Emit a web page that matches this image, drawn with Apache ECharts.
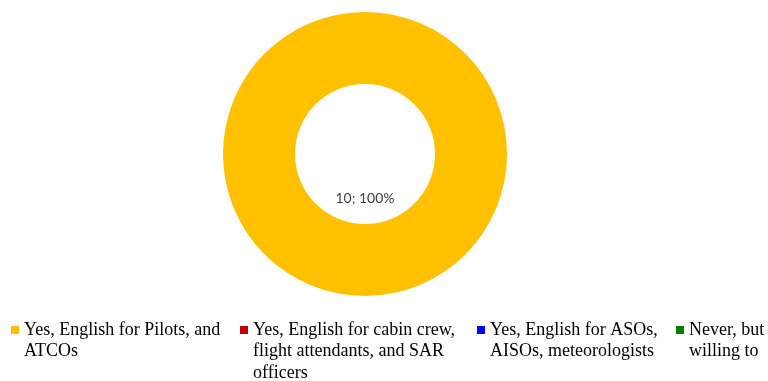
<!DOCTYPE html>
<html>
<head>
<meta charset="utf-8">
<script src="https://cdn.jsdelivr.net/npm/echarts@6/dist/echarts.min.js"></script>
<style>
  html, body { margin: 0; padding: 0; background: #fff; }
  #chart { width: 768px; height: 381px; }
</style>
</head>
<body>
<div id="chart"></div>
<script>
// Survey answers and their counts
const legendLines = [
  ['Yes, English for Pilots, and', 'ATCOs'],
  ['Yes, English for cabin crew,', 'flight attendants, and SAR', 'officers'],
  ['Yes, English for ASOs,', 'AISOs, meteorologists'],
  ['Never, but', 'willing to']
];
const categories = legendLines.map(l => l.join(' '));
const counts = [10, 0, 0, 0];
const colors = ['#FFC000', '#C00000', '#0000FF', '#008000'];

// legend item anchors (left edge of each square)
const legendLeft = [11, 240, 477, 676];
const iconTop = 326;
const iconSize = 8;
const lineH = 21.5;

const chart = echarts.init(document.getElementById('chart'), null, { renderer: 'canvas' });

// The legend text block is centred on its square, so blank lines are put
// above the wrapped name to keep the first line level with the square.
const legends = categories.map((name, i) => {
  const n = legendLines[i].length;
  const blockLines = 2 * n - 1;
  return {
    data: [name],
    left: legendLeft[i],
    top: iconTop + iconSize / 2 - blockLines * lineH / 2,
    orient: 'horizontal',
    padding: 0,
    itemGap: 0,
    icon: 'rect',
    itemWidth: iconSize,
    itemHeight: iconSize,
    selectedMode: false,
    formatter: () => '\n'.repeat(n - 1) + legendLines[i].join('\n'),
    textStyle: {
      fontFamily: '"Liberation Serif", "Times New Roman", serif',
      fontSize: 18,
      lineHeight: lineH,
      color: '#000'
    }
  };
});

chart.setOption({
  animation: false,
  color: colors,
  legend: legends,
  series: [{
    type: 'pie',
    center: [365, 154],
    radius: [70, 142],
    startAngle: 90,
    clockwise: true,
    avoidLabelOverlap: false,
    silent: true,
    itemStyle: { borderWidth: 0 },
    label: {
      show: true,
      position: 'center',
      fontFamily: 'Lato, "Open Sans", sans-serif',
      fontSize: 14,
      lineHeight: 22,
      color: '#404040',
      // value sits two lines below the hole's centre
      formatter: p => (p.value ? '\n\n\n\n' + p.value + '; ' + Math.round(p.percent) + '%' : '')
    },
    labelLine: { show: false },
    data: categories.map((name, i) => ({ name, value: counts[i] }))
  }]
});
</script>
</body>
</html>
